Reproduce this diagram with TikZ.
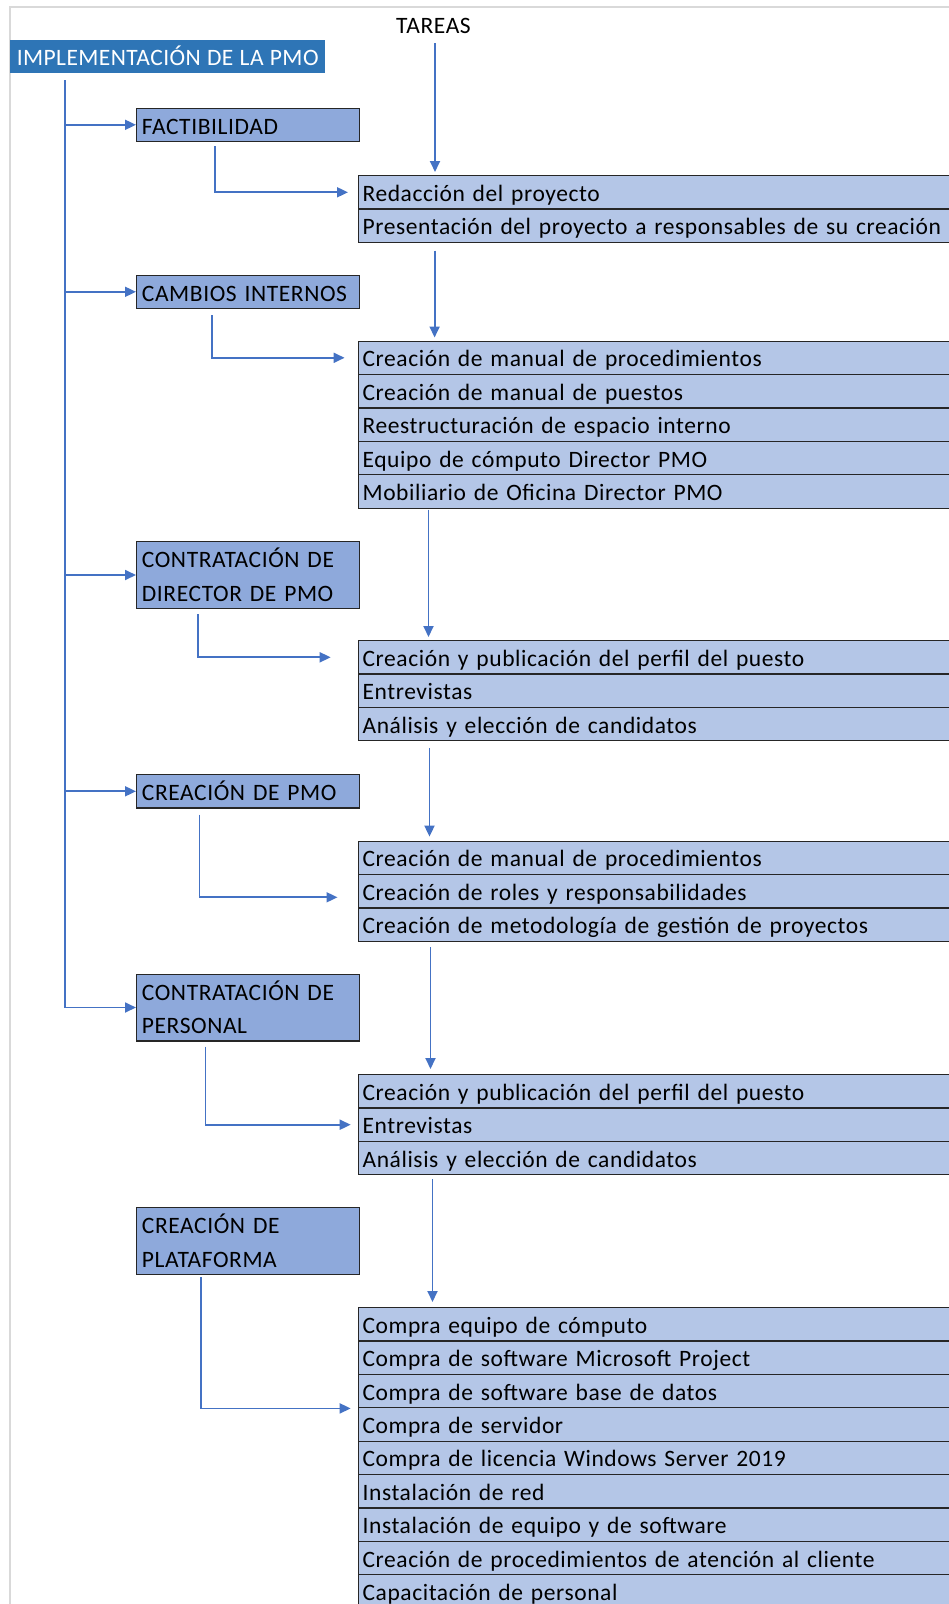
\documentclass[tikz,border=0pt]{standalone}
\usepackage{fontspec}
\setmainfont{Carlito}[LetterSpace=2.5,WordSpace=0.8]
\newfontfamily\titlefont{Carlito}[LetterSpace=1.8,WordSpace=1.1]
\usepackage{xcolor}
\usetikzlibrary{arrows.meta}
\definecolor{titleblue}{HTML}{2E75B6}
\definecolor{phaseblue}{HTML}{8EA9DB}
\definecolor{rowblue}{HTML}{B4C6E7}
\definecolor{linkblue}{HTML}{4472C4}
\definecolor{framegrey}{HTML}{D9D9D9}

\begin{document}
\begin{tikzpicture}
    [x=1pt,y=-1pt,
    every node/.style={font=\fontsize{23.5}{33.4}\selectfont},
    titlebox/.style={font=\titlefont\fontsize{23.5}{33.4}\selectfont,fill=titleblue,text=white,anchor=north west,minimum width=315pt,minimum height=33pt,inner xsep=5pt,inner ysep=0pt,text height=20pt,text depth=2pt},
    phase/.style={draw=black!85,line width=1.2pt,fill=phaseblue,anchor=north west,minimum width=222.7pt,minimum height=33.4pt,text width=212pt,align=left,inner xsep=5pt,inner ysep=0pt,text height=19pt},
    task/.style={draw=black!85,line width=1.2pt,fill=rowblue,anchor=north west,minimum width=600pt,minimum height=33.4pt,text width=592pt,align=left,inner xsep=4pt,inner ysep=0pt,text height=20pt,text depth=2pt},
    line/.style={draw=linkblue,line width=1.8pt},
    link/.style={line,-{Triangle[length=11pt,width=10pt]}}]
    \useasboundingbox (0,0) rectangle (949,1604);
    %frame
    \draw[framegrey,line width=1.5pt] (10,1604)--(10,7)--(949,7);
    %title and header
    \node[titlebox] (impl) at (10,40) {IMPLEMENTACIÓN DE LA PMO};
    \node[anchor=base,inner sep=0pt] (tareas) at (433.5,33) {TAREAS};
    %phases
    \node[phase] (fact) at (136,107.5) {FACTIBILIDAD};
    \node[phase] (camb) at (136,274.5) {CAMBIOS INTERNOS};
    \node[phase,minimum height=66.8pt] (dir) at (136,541) {CONTRATACIÓN DE\\DIRECTOR DE PMO};
    \node[phase] (pmo) at (136,774) {CREACIÓN DE PMO};
    \node[phase,minimum height=66.8pt] (pers) at (136,973.5) {CONTRATACIÓN DE\\PERSONAL};
    \node[phase,minimum height=66.8pt] (plat) at (136,1207) {CREACIÓN DE\\PLATAFORMA};
    %tasks factibilidad
    \node[task] (f1) at (358,175) {Redacción del proyecto};
    \node[task] (f2) at (358,208.4) {Presentación del proyecto a responsables de su creación};
    %tasks cambios internos
    \node[task] (c1) at (358,340.5) {Creación de manual de procedimientos};
    \node[task] (c2) at (358,373.9) {Creación de manual de puestos};
    \node[task] (c3) at (358,407.3) {Reestructuración de espacio interno};
    \node[task] (c4) at (358,440.7) {Equipo de cómputo Director PMO};
    \node[task] (c5) at (358,474.1) {Mobiliario de Oficina Director PMO};
    %tasks director
    \node[task] (d1) at (358,640) {Creación y publicación del perfil del puesto};
    \node[task] (d2) at (358,673.4) {Entrevistas};
    \node[task] (d3) at (358,706.8) {Análisis y elección de candidatos};
    %tasks pmo
    \node[task] (p1) at (358,840.6) {Creación de manual de procedimientos};
    \node[task] (p2) at (358,874) {Creación de roles y responsabilidades};
    \node[task] (p3) at (358,907.4) {Creación de metodología de gestión de proyectos};
    %tasks personal
    \node[task] (r1) at (358,1074) {Creación y publicación del perfil del puesto};
    \node[task] (r2) at (358,1107.4) {Entrevistas};
    \node[task] (r3) at (358,1140.8) {Análisis y elección de candidatos};
    %tasks plataforma
    \node[task] (t1) at (358,1307) {Compra equipo de cómputo};
    \node[task] (t2) at (358,1340.4) {Compra de software Microsoft Project};
    \node[task] (t3) at (358,1373.8) {Compra de software base de datos};
    \node[task] (t4) at (358,1407.2) {Compra de servidor};
    \node[task] (t5) at (358,1440.6) {Compra de licencia Windows Server 2019};
    \node[task] (t6) at (358,1474) {Instalación de red};
    \node[task] (t7) at (358,1507.4) {Instalación de equipo y de software};
    \node[task] (t8) at (358,1540.8) {Creación de procedimientos de atención al cliente};
    \node[task] (t9) at (358,1574.2) {Capacitación de personal};
    %trunk and branches
    \coordinate (trunk) at ([xshift=55pt,yshift=-7pt]impl.south west);
    \draw[line] (trunk) -- (trunk |- pers.west);
    \draw[link] (trunk |- fact.west) -- (fact.west);
    \draw[link] (trunk |- camb.west) -- (camb.west);
    \draw[link] (trunk |- dir.west) -- (dir.west);
    \draw[link] (trunk |- pmo.west) -- (pmo.west);
    \draw[link] (trunk |- pers.west) -- (pers.west);
    %phase to tasks
    \draw[link] ([xshift=78.7pt,yshift=-4pt]fact.south west) |- ([xshift=-10pt]f1.west);
    \draw[link] ([xshift=75.7pt,yshift=-6pt]camb.south west) |- ([xshift=-13.4pt]c1.west);
    \draw[link] ([xshift=61.7pt,yshift=-5pt]dir.south west) |- ([xshift=-27.3pt]d1.west);
    \draw[link] ([xshift=63.4pt,yshift=-6pt]pmo.south west) |- ([xshift=-20.5pt,yshift=-6pt]p2.west);
    \draw[link] ([xshift=69.5pt,yshift=-5pt]pers.south west) |- ([xshift=-7.3pt]r2.west);
    \draw[link] ([xshift=65pt,yshift=-2pt]plat.south west) |- ([xshift=-7.3pt]t3.south west);
    %task flow
    \draw[link] ([xshift=1.5pt,yshift=-10pt]tareas.base) -- ([xshift=77pt,yshift=3pt]f1.north west);
    \draw[link] ([xshift=76.6pt,yshift=-7.5pt]f2.south west) -- ([xshift=76.6pt,yshift=3pt]c1.north west);
    \draw[link] ([xshift=70.5pt,yshift=-1pt]c5.south west) -- ([xshift=70.5pt,yshift=3pt]d1.north west);
    \draw[link] ([xshift=71.5pt,yshift=-6.5pt]d3.south west) -- ([xshift=71.5pt,yshift=4pt]p1.north west);
    \draw[link] ([xshift=72.5pt,yshift=-5pt]p3.south west) -- ([xshift=72.5pt,yshift=5pt]r1.north west);
    \draw[link] ([xshift=74.5pt,yshift=-4pt]r3.south west) -- ([xshift=74.5pt,yshift=5pt]t1.north west);
\end{tikzpicture}
\end{document}
